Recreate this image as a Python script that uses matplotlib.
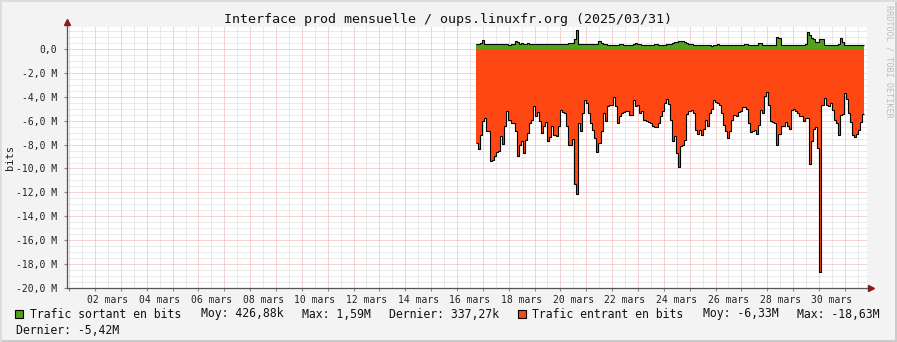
import matplotlib
matplotlib.use("Agg")
import matplotlib.pyplot as plt
import numpy as np
from matplotlib.patches import Rectangle

# trafic entrant, en M bits (valeurs absolues, tracées en négatif)
entrant = [7.86, 8.33, 7.17, 6.06, 5.78, 6.89, 6.89, 9.39, 9.25, 8.92,
           8.64, 8.50, 7.31, 7.94, 6.47, 5.22, 5.92, 6.19, 6.19, 6.89,
           8.97, 8.00, 7.72, 8.69, 7.58, 7.03, 6.19, 5.92, 4.81, 5.58,
           5.31, 6.06, 7.03, 6.47, 6.14, 7.72, 7.36, 6.47, 7.17, 7.25,
           6.47, 5.14, 5.31, 5.36, 6.47, 8.00,
           8.00, 7.53, 11.33, 12.17,
           6.19, 6.89, 5.36, 4.31, 4.53, 5.36, 6.19, 6.75, 7.44, 8.64,
           7.86, 6.89, 5.36, 6.06, 4.75, 4.67, 4.67, 4.03, 4.81, 6.19,
           5.64, 5.36, 5.31, 5.17, 5.22, 5.50, 5.50, 4.31, 4.81, 4.67,
           5.36, 5.22, 5.97, 6.06, 6.14, 6.19, 6.47, 6.53, 6.53, 6.19,
           5.64, 5.22, 4.53,
           4.19, 4.58, 5.92, 7.72, 7.31, 8.69, 9.86, 8.08, 8.00, 7.58,
           5.44, 5.22, 5.08, 5.36, 6.75, 7.08, 6.75, 7.17, 6.69, 5.92,
           6.47, 5.36, 5.03, 4.25, 4.47, 4.53, 4.67, 5.36, 6.33, 6.89,
           7.44, 6.89, 5.92, 5.50, 5.64, 5.28, 5.22, 4.86, 4.86, 5.03,
           6.19, 6.97, 6.89, 6.75,
           7.08, 6.33,
           5.08, 5.36, 3.92, 3.56, 4.67, 6.06, 6.14, 6.19, 8.00, 7.08,
           6.47, 6.42, 6.14, 6.42, 6.69, 5.14, 5.03, 5.22, 5.36, 5.64,
           5.64, 6.06, 5.78, 5.78, 9.61, 7.72, 6.67, 6.56, 8.28, 18.63,
           4.67, 4.11, 4.67, 4.75, 4.53, 5.14, 5.97, 6.19, 7.17, 5.50,
           5.44, 3.69, 4.19, 5.36, 6.14, 7.17, 7.36, 7.08, 6.75, 6.14,
           5.44]

# trafic sortant, en M bits
sortant = [0.45, 0.45, 0.47, 0.72, 0.42, 0.40, 0.43, 0.41, 0.40, 0.38,
           0.40, 0.42, 0.41, 0.39, 0.40, 0.38, 0.37, 0.40, 0.45, 0.64,
           0.55, 0.45, 0.47, 0.42, 0.44, 0.46, 0.42, 0.40, 0.41, 0.39,
           0.42, 0.43, 0.40, 0.38, 0.40, 0.41, 0.43, 0.45, 0.42, 0.40,
           0.41, 0.42, 0.40, 0.44, 0.45, 0.47, 0.50, 0.52, 0.86, 1.59,
           0.40, 0.38, 0.40, 0.41, 0.39, 0.42, 0.40, 0.44, 0.43, 0.41,
           0.64, 0.50, 0.45, 0.40, 0.36, 0.33, 0.31, 0.31, 0.33, 0.36,
           0.40, 0.38, 0.34, 0.31, 0.30, 0.33, 0.36, 0.40, 0.46, 0.44,
           0.38, 0.35, 0.33, 0.31, 0.32, 0.34, 0.36, 0.38, 0.40, 0.37,
           0.34, 0.33, 0.35, 0.38, 0.42, 0.45, 0.50, 0.55, 0.62, 0.67,
           0.66, 0.64, 0.60, 0.52, 0.42, 0.38, 0.35, 0.33, 0.31, 0.30,
           0.32, 0.34, 0.36, 0.33, 0.30, 0.29, 0.31, 0.35, 0.40, 0.36,
           0.33, 0.31, 0.30, 0.32, 0.35, 0.33, 0.31, 0.30, 0.32, 0.34,
           0.36, 0.45, 0.40, 0.34, 0.31, 0.30, 0.32, 0.34, 0.53, 0.48,
           0.36, 0.34, 0.33, 0.35, 0.34, 0.33, 0.36, 0.99, 0.95, 0.36,
           0.34, 0.33, 0.35, 0.36, 0.34, 0.33, 0.35, 0.34, 0.33, 0.36,
           0.35, 0.40, 1.42, 1.20, 0.94, 0.85, 0.58, 0.58, 0.86, 0.86,
           0.36, 0.34, 0.33, 0.35, 0.34, 0.33, 0.35, 0.40, 0.94, 0.60,
           0.36, 0.35, 0.34, 0.36, 0.35, 0.33, 0.35, 0.34, 0.36, 0.35]

# période des données, en jours depuis le 1er mars 00:00
debut = 15.725
fin = 30.76

titre = "Interface prod mensuelle / oups.linuxfr.org (2025/03/31)"
leg_sortant = ["Trafic sortant en bits", "Moy: 426,88k", "Max: 1,59M", "Dernier: 337,27k"]
leg_entrant = ["Trafic entrant en bits", "Moy: -6,33M", "Max: -18,63M", "Dernier: -5,42M"]

VERT = '#54A11E'
ORANGE = '#FF4713'
GRILLE_ROUGE = '#F2A6A6'
GRILLE_GRIS = '#D6D6D6'
MONO = 'DejaVu Sans Mono'

W, H = 897, 342


def px(x, y):
    return x / W, 1 - y / H


fig = plt.figure(figsize=(W / 100, H / 100), dpi=100)
fig.patch.set_facecolor('#F3F3F3')
ax = fig.add_axes([67 / W, 1 - 288 / H, 800 / W, 261 / H])
ax.set_facecolor('white')

val_e = -np.array(entrant)
bords_e = np.linspace(debut, fin, len(entrant) + 1)
val_s = np.array(sortant)
bords_s = np.linspace(debut, fin, len(sortant) + 1)

ax.stairs(val_e, bords_e, baseline=0, fill=True, color=ORANGE, zorder=2)
ax.stairs(val_s, bords_s, baseline=0, fill=True, color=VERT, zorder=2)
ax.stairs(val_e, bords_e, baseline=None, color='black', lw=0.8, zorder=3)
ax.stairs(val_s, bords_s, baseline=None, color='black', lw=0.8, zorder=3)

ax.set_xlim(-0.085, 30.86)
ax.set_ylim(-20, 1.84)

# grille verticale : rouge à minuit, gris à midi
ax.set_xticks(np.arange(0, 31))
ax.set_xticks(np.arange(0.5, 31, 1), minor=True)
jours = [f"{k + 1:02d} mars" if (k + 1) % 2 == 0 else "" for k in range(31)]
ax.set_xticklabels([""] * 31)
ax.set_xticklabels(jours, minor=True)

ax.set_yticks(np.arange(-20, 0.1, 2))
ax.set_yticks(np.arange(-20, 1.84, 0.5), minor=True)
ylabels = ["0,0" if v == 0 else f"{v:.1f} M".replace('.', ',') for v in np.arange(-20, 0.1, 2)]
ax.set_yticklabels(ylabels)

ax.grid(which='major', color=GRILLE_ROUGE, linestyle=(0, (1, 1)), lw=0.72, zorder=0)
ax.grid(which='minor', color=GRILLE_GRIS, linestyle=(0, (1, 1)), lw=0.72, zorder=0)
ax.set_axisbelow(True)

ax.tick_params(axis='x', which='major', length=2, color='#888888')
ax.tick_params(axis='x', which='minor', length=0, pad=5, labelsize=7, labelcolor='#222222')
ax.tick_params(axis='y', which='major', length=2, pad=5, labelsize=7, labelcolor='#222222', color='#888888')
ax.tick_params(axis='y', which='minor', length=0)
for lab in ax.get_xticklabels(minor=True) + ax.get_yticklabels():
    lab.set_family(MONO)

for s in ['top', 'right']:
    ax.spines[s].set_visible(False)
for s in ['left', 'bottom']:
    ax.spines[s].set_color('#555555')
    ax.spines[s].set_linewidth(0.9)
    ax.spines[s].set_zorder(4)

# prolongement des axes avec flèches
ax.plot([0, 0], [1, 1.02], transform=ax.transAxes, color='#555555', lw=0.9, clip_on=False)
ax.plot([0], [1.018], transform=ax.transAxes, marker='^', ms=4, color='#8B1A1A', clip_on=False)
ax.plot([1, 1.004], [0, 0], transform=ax.transAxes, color='#555555', lw=0.9, clip_on=False)
ax.plot([1.0055], [0], transform=ax.transAxes, marker='>', ms=4, color='#8B1A1A', clip_on=False)

fig.text(*px(448, 19), titre, ha='center', va='center', fontsize=9.6, family=MONO, color='#111111')
fig.text(*px(10, 158), "bits", ha='center', va='center', rotation=90, fontsize=7.5, family=MONO, color='#222222')
fig.text(*px(889, 5), "RRDTOOL / TOBI OETIKER", ha='center', va='top', rotation=270,
         fontsize=6.1, family=MONO, color='#BDBDBD')

# légende
fig.add_artist(Rectangle(px(15, 318), 8 / W, 8 / H, transform=fig.transFigure,
                         facecolor=VERT, edgecolor='black', lw=0.8))
fig.add_artist(Rectangle(px(518, 318), 8 / W, 8 / H, transform=fig.transFigure,
                         facecolor=ORANGE, edgecolor='black', lw=0.8))
pos_sortant = [30, 201, 302, 389]
for x, t in zip(pos_sortant, leg_sortant):
    fig.text(*px(x, 314), t, ha='left', va='center', fontsize=8.3, family=MONO, color='#111111')
pos_entrant = [532, 703, 797]
for x, t in zip(pos_entrant, leg_entrant[:3]):
    fig.text(*px(x, 314), t, ha='left', va='center', fontsize=8.3, family=MONO, color='#111111')
fig.text(*px(16, 330), leg_entrant[3], ha='left', va='center', fontsize=8.3, family=MONO, color='#111111')

# cadre
fig.add_artist(Rectangle((0, 0), 1, 2 / H, transform=fig.transFigure, facecolor='#CBCBCB', edgecolor='none'))
fig.add_artist(Rectangle((1 - 2 / W, 0), 2 / W, 1, transform=fig.transFigure, facecolor='#CBCBCB', edgecolor='none'))
fig.add_artist(Rectangle((0, 1 - 2 / H), 1, 2 / H, transform=fig.transFigure, facecolor='#DDDDDD', edgecolor='none'))
fig.add_artist(Rectangle((0, 0), 2 / W, 1, transform=fig.transFigure, facecolor='#DDDDDD', edgecolor='none'))

fig.savefig('out.png', dpi=100, facecolor=fig.get_facecolor())
